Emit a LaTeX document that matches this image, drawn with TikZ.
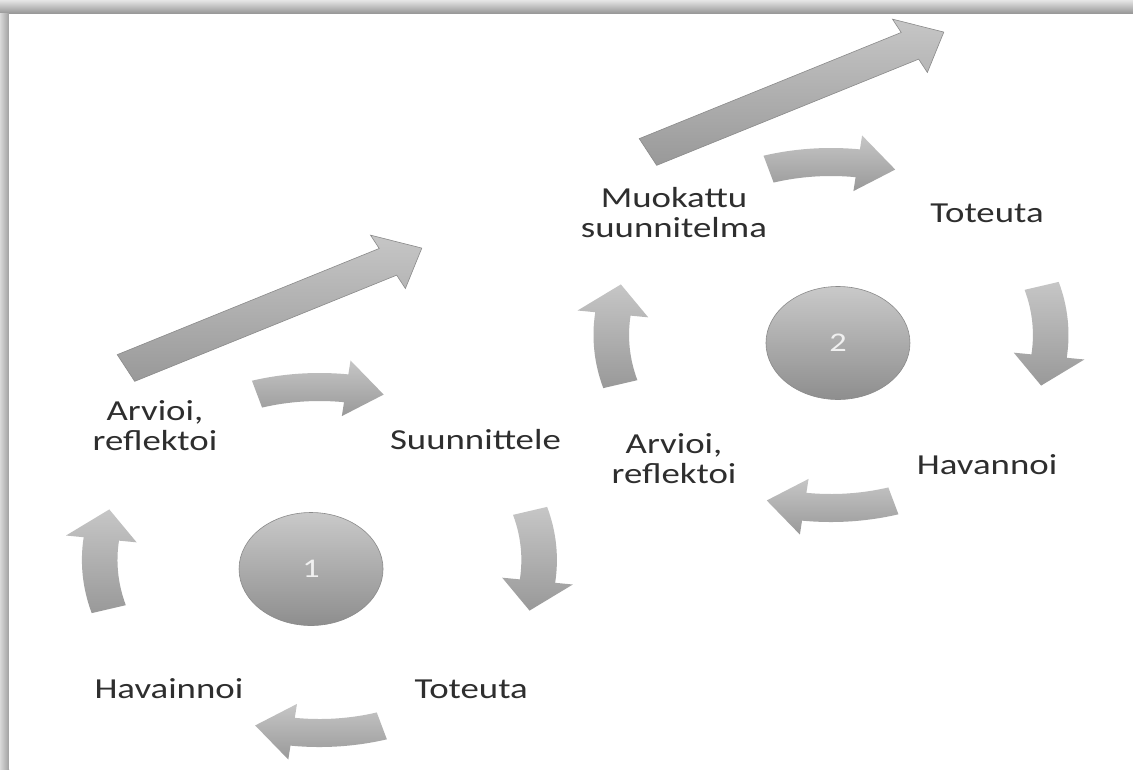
\documentclass[tikz,border=0pt]{standalone}
\usepackage{xcolor}
\usepackage{fontspec}
\usepackage{tikz}
\usetikzlibrary{shapes.geometric}
\newfontfamily\lblfont{Carlito}[FakeStretch=1.27]
\definecolor{pallotop}{HTML}{C9C9C9}
\definecolor{pallobot}{HTML}{8E8E8E}
\definecolor{kaaritop}{HTML}{C6C6C6}
\definecolor{kaaribot}{HTML}{999999}
\definecolor{isoline}{HTML}{8A8A8A}
\tikzset{
  lbl/.style={font=\lblfont\fontsize{29}{30}\selectfont, align=center, text=black!82, inner sep=0pt},
  pallo/.style={ellipse, draw=isoline, line width=0.6pt, top color=pallotop, bottom color=pallobot,
    minimum width=144pt, minimum height=113pt, inner sep=0pt,
    font=\lblfont\fontsize{27}{27}\selectfont, text=white!94!black},
  kaari/.style={top color=kaaritop, bottom color=kaaribot},
  iso/.style={draw=isoline, line width=0.6pt, top color=kaaritop, bottom color=kaaribot}
}
\begin{document}
\begin{tikzpicture}[x=1pt, y=1pt, xscale=1.27]
            %背景与上、左两边的阴影
            \useasboundingbox (0,0) rectangle (892.1,769);
            \shade[top color=gray!20, bottom color=gray!85] (0,755) rectangle (892.1,769);
            \shade[left color=gray!30, right color=gray!75] (0,0) rectangle (7.1,755);
            \fill[white] (7.1,0) rectangle (892.1,755);
            %绘制两个长箭头
            \foreach \x/\y in {99.2/401, 510.2/617}{\draw[iso, shift={(\x,\y)}, rotate=27.24] (0,-15) -- (232,-15) -- (232,-30) -- (262,0) -- (232,30) -- (232,15) -- (0,15) -- cycle;}
            %绘制每个循环的四个弯箭头
            \foreach \cx/\cy in {251.5/209, 654.3/434}{
              \foreach \c in {90,0,-90,180}{\path[kaari, shift={(\cx,\cy)}] (\c+16.5:187) arc[start angle=\c+16.5, end angle=\c-7, radius=187] -- (\c-7:201) -- (\c-17:173) -- (\c-7:145) -- (\c-7:159) arc[start angle=\c-7, end angle=\c+16.5, radius=159] -- cycle;}}
            %绘制中间的圆
            \node[pallo] (P1) at (244.9,200) {1};
            \node[pallo] (P2) at (659.8,426) {2};
            %第一个循环的文字
            \node[lbl] (A1) at (122,343) {Arvioi,\\reflektoi};
            \node[lbl] (S1) at (374.4,329) {Suunnittele};
            \node[lbl] (T1) at (371,80) {Toteuta};
            \node[lbl] (H1) at (133,80) {Havainnoi};
            %第二个循环的文字
            \node[lbl] (M2) at (530.7,556) {Muokattu\\suunnitelma};
            \node[lbl] (T2) at (777.2,556) {Toteuta};
            \node[lbl] (H2) at (777.2,304) {Havannoi};
            \node[lbl] (A2) at (530.7,310) {Arvioi,\\reflektoi};
        \end{tikzpicture}
\end{document}
